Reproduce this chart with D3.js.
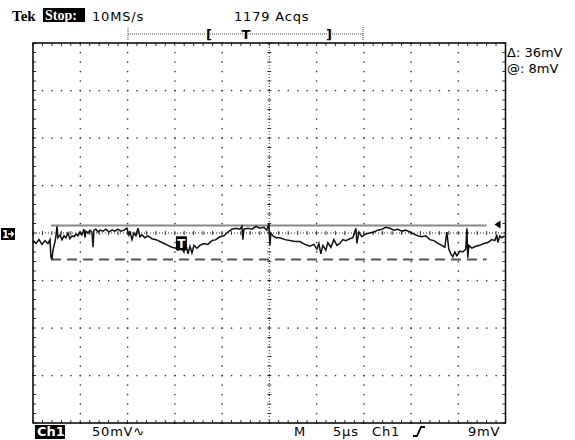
<!DOCTYPE html>
<html lang="en">
<head>
<meta charset="UTF-8">
<title>Tek scope capture</title>
<style>
  body { margin: 0; background: #fff; }
  svg { display: block; font-family: "DejaVu Sans", sans-serif; }
</style>
</head>
<body>
<script src="https://cdn.jsdelivr.net/npm/d3@7/dist/d3.min.js"></script>
<script>
// Ch1 trace: time in us from the left screen edge, level in mV from ground
var times = [0,0.32,0.63,0.95,1.27,1.59,1.80,1.90,2.01,2.12,2.33,2.43,2.54,2.64,2.86,3.07,3.28,3.49,3.70,3.91,
  4.13,4.34,4.55,4.76,4.97,5.18,5.39,5.50,5.61,5.82,6.03,6.24,6.35,6.45,6.66,6.88,7.09,7.40,7.72,8.04,
  8.36,8.67,8.99,9.31,9.63,9.94,10.15,10.26,10.47,10.68,10.89,11.11,11.32,11.53,11.85,12.16,12.59,13.01,13.43,13.86,
  14.28,14.70,15.13,15.34,15.65,15.97,16.18,16.40,16.61,16.82,17.03,17.35,17.66,18.09,18.51,18.93,19.36,19.78,20.20,20.63,
  21.05,21.47,21.90,22.11,22.21,22.32,22.74,23.17,23.59,24.01,24.43,24.75,24.96,25.07,25.17,25.39,25.70,26.13,26.66,27.18,
  27.71,28.24,28.77,29.30,29.72,30.04,30.25,30.46,30.68,30.99,31.20,31.52,31.84,32.16,32.47,32.79,33.11,33.53,33.85,34.17,
  34.27,34.48,34.80,35.22,35.65,36.07,36.49,36.92,37.34,37.76,38.19,38.61,39.03,39.45,39.88,40.30,40.72,41.15,41.57,41.99,
  42.42,42.84,43.26,43.58,43.79,44.00,44.21,44.43,44.64,44.85,45.17,45.48,45.80,45.91,46.01,46.12,46.44,46.86,47.28,47.71,
  48.13,48.55,48.87,49.08,49.19,49.40,49.61,49.93];
var volts = [-8,-11,-7,-12,-8,-11,-7,-26,-27,-18,-9,-3,7,-5,-2,-7,-3,-5,0,-6,
  -3,-4,-1,-3,1,-2,4,-5,2,0,3,1,-15,3,4,1,3,2,4,1,
  3,2,4,2,3,5,-2,2,-7,0,-3,5,-4,-2,-5,-3,-6,-7,-9,-11,
  -13,-15,-16,-18,-14,-20,-12,-22,-14,-21,-13,-16,-13,-11,-12,-8,-7,-4,-3,1,
  4,5,4,7,-7,4,5,4,7,5,6,3,10,-13,0,-3,-5,-5,-7,-8,
  -9,-9,-12,-14,-12,-17,-11,-22,-13,-18,-10,-15,-7,-13,-11,-7,-8,-6,-5,5,
  -11,1,-4,-1,0,1,3,4,6,5,3,4,2,3,1,-1,-3,-4,-3,-7,
  -8,-11,-13,-15,1,-17,-22,-25,-20,-24,-19,-20,-17,5,-26,-13,-16,-14,-13,-11,
  -10,-7,-8,-2,-10,-3,-5,-3];

// horizontal cursors (mV) and the span they are drawn over (us)
var cursorLevels = [8, -28];
var cursorSpan = [1.9, 48.0];
var triggerLevel = 9;
var triggerPoint = [15.65, -14];

// record bar: bracket / trigger positions as fraction of the record
var recordMarks = [{t: "[", f: 0.345}, {t: "T", f: 0.502}, {t: "]", f: 0.855}];

var topLabels = [{t: "10MS/s", x: 92}, {t: "1179 Acqs", x: 234}];
var sideLabels = ["\u0394: 36mV", "@: 8mV"];
var bottomLabels = [{t: "50mV\u223F", x: 92}, {t: "M", x: 294}, {t: "5\u00B5s", x: 333},
  {t: "Ch1", x: 372}, {t: "9mV", x: 468}];

var width = 575, height = 440;
var svg = d3.select("body").append("svg").attr("width", width).attr("height", height);

var x = d3.scaleLinear().domain([0, 50]).range([33, 505.5]);
var y = d3.scaleLinear().domain([-200, 200]).range([423, 43]);

var majX = d3.range(0, 51, 5), minX = d3.range(0, 51, 1);
var majY = d3.range(-200, 201, 50), minY = d3.range(-200, 201, 10);

var grid = svg.append("g");
// graticule dots
majX.slice(1, -1).forEach(function(mx) {
  if (mx == 25) return;
  minY.forEach(function(my) {
    grid.append("rect").attr("x", x(mx) - 0.6).attr("y", y(my) - 0.6)
      .attr("width", 1.4).attr("height", 1.4).attr("fill", "#333");
  });
});
majY.slice(1, -1).forEach(function(my) {
  if (my == 0) return;
  minX.forEach(function(mx) {
    grid.append("rect").attr("x", x(mx) - 0.6).attr("y", y(my) - 0.6)
      .attr("width", 1.4).attr("height", 1.4).attr("fill", "#333");
  });
});

// centre cross
grid.append("line").attr("x1", x(0)).attr("x2", x(50)).attr("y1", y(0)).attr("y2", y(0))
  .attr("stroke", "#222").attr("stroke-dasharray", "1,2");
grid.append("line").attr("x1", x(25)).attr("x2", x(25)).attr("y1", y(-200)).attr("y2", y(200))
  .attr("stroke", "#222").attr("stroke-dasharray", "1,2");
grid.selectAll(".cx").data(minX).enter().append("line")
  .attr("x1", d => x(d)).attr("x2", d => x(d)).attr("y1", y(0) - 2).attr("y2", y(0) + 2)
  .attr("stroke", "#333");
grid.selectAll(".cy").data(minY).enter().append("line")
  .attr("y1", d => y(d)).attr("y2", d => y(d)).attr("x1", x(25) - 2).attr("x2", x(25) + 2)
  .attr("stroke", "#333");

// edge ticks
grid.selectAll(".tt").data(minX).enter().append("line")
  .attr("x1", d => x(d)).attr("x2", d => x(d)).attr("y1", y(200)).attr("y2", y(200) + 3).attr("stroke", "#333");
grid.selectAll(".bt").data(minX).enter().append("line")
  .attr("x1", d => x(d)).attr("x2", d => x(d)).attr("y1", y(-200)).attr("y2", y(-200) - 3).attr("stroke", "#333");
grid.selectAll(".lt").data(minY).enter().append("line")
  .attr("y1", d => y(d)).attr("y2", d => y(d)).attr("x1", x(0)).attr("x2", x(0) + 3).attr("stroke", "#333");
grid.selectAll(".rt").data(minY).enter().append("line")
  .attr("y1", d => y(d)).attr("y2", d => y(d)).attr("x1", x(50)).attr("x2", x(50) - 3).attr("stroke", "#333");

grid.append("rect").attr("x", x(0)).attr("y", y(200)).attr("width", x(50) - x(0)).attr("height", y(-200) - y(200))
  .attr("fill", "none").attr("stroke", "#000").attr("stroke-width", 1.5);

// cursors
svg.append("line").attr("x1", x(cursorSpan[0])).attr("x2", x(cursorSpan[1]))
  .attr("y1", y(cursorLevels[0])).attr("y2", y(cursorLevels[0]))
  .attr("stroke", "#888").attr("stroke-width", 2);
svg.append("line").attr("x1", x(cursorSpan[0])).attr("x2", x(cursorSpan[1]))
  .attr("y1", y(cursorLevels[1])).attr("y2", y(cursorLevels[1]))
  .attr("stroke", "#555").attr("stroke-width", 2).attr("stroke-dasharray", "10,6");

// trace
var pts = times.map(function(t, i) { return [t, volts[i]]; });
var line = d3.line().x(d => x(d[0])).y(d => y(d[1]));
svg.append("path").datum(pts).attr("d", line)
  .attr("fill", "none").attr("stroke", "#111").attr("stroke-width", 1.5);

// trigger marker on the trace
var tp = [x(triggerPoint[0]), y(triggerPoint[1])];
svg.append("rect").attr("x", tp[0] - 5).attr("y", tp[1] - 10).attr("width", 11).attr("height", 14).attr("fill", "#000");
svg.append("text").attr("x", tp[0] + 0.5).attr("y", tp[1] + 2).attr("text-anchor", "middle")
  .attr("fill", "#fff").attr("font-size", 12).attr("font-weight", "bold").text("T");

// trigger level arrow at right
var ty = y(triggerLevel);
svg.append("path").attr("d", "M" + (x(50) - 11) + "," + ty + "L" + (x(50) - 5) + "," + (ty - 4) + "L" + (x(50) - 5) + "," + (ty + 4) + "Z")
  .attr("fill", "#000");

// ground marker
var gy = y(0);
svg.append("rect").attr("x", 1).attr("y", gy - 5).attr("width", 14).attr("height", 12).attr("fill", "#000");
svg.append("text").attr("x", 2).attr("y", gy + 5).attr("fill", "#fff").attr("font-size", 10).attr("font-weight", "bold")
  .text("1");
svg.append("path").attr("d", "M8," + (gy + 1) + "L13," + (gy + 1) + "M11," + (gy - 1.5) + "L13.5," + (gy + 1) + "L11," + (gy + 3.5))
  .attr("fill", "none").attr("stroke", "#fff").attr("stroke-width", 1.3);

// header
svg.append("text").attr("x", 12).attr("y", 21).attr("font-size", 15).attr("font-weight", "bold")
  .attr("font-family", "Liberation Serif, serif").text("Tek");
svg.append("rect").attr("x", 43).attr("y", 8).attr("width", 42).attr("height", 14).attr("fill", "#000");
svg.append("text").attr("x", 45).attr("y", 20).attr("font-size", 14).attr("font-weight", "bold")
  .attr("font-family", "Liberation Serif, serif").attr("fill", "#fff").text("Stop:");
svg.selectAll(".top").data(topLabels).enter().append("text")
  .attr("x", d => d.x).attr("y", 21).attr("font-size", 13).attr("letter-spacing", 0.8).text(d => d.t);

// record bar
var rec = d3.scaleLinear().domain([0, 1]).range([128, 363]);
svg.append("line").attr("x1", rec(0)).attr("x2", rec(1)).attr("y1", 34).attr("y2", 34)
  .attr("stroke", "#444").attr("stroke-dasharray", "1,1");
[0, 1].forEach(function(f) {
  svg.append("line").attr("x1", rec(f)).attr("x2", rec(f)).attr("y1", 27).attr("y2", 41)
    .attr("stroke", "#444").attr("stroke-dasharray", "1,1");
});
svg.selectAll(".rm").data(recordMarks).enter().append("text")
  .attr("x", d => rec(d.f)).attr("y", 39).attr("text-anchor", "middle")
  .attr("font-size", 13).attr("font-weight", "bold").attr("fill", "#000")
  .style("paint-order", "stroke").attr("stroke", "#fff").attr("stroke-width", 2)
  .text(d => d.t);

// cursor readout
svg.selectAll(".side").data(sideLabels).enter().append("text")
  .attr("x", 507).attr("y", (d, i) => 57 + i * 16).attr("font-size", 13).text(d => d);

// footer
svg.append("rect").attr("x", 35).attr("y", 425).attr("width", 30).attr("height", 14).attr("fill", "#000");
svg.append("text").attr("x", 37).attr("y", 436).attr("font-size", 13).attr("font-weight", "bold")
  .attr("fill", "#fff").text("Ch1");
svg.selectAll(".bot").data(bottomLabels).enter().append("text")
  .attr("x", d => d.x).attr("y", 436).attr("font-size", 13).attr("letter-spacing", 0.8).text(d => d.t);
svg.append("path").attr("d", "M413,436L417,436L421,427L425,427")
  .attr("fill", "none").attr("stroke", "#000").attr("stroke-width", 1.8);
</script>
</body>
</html>
